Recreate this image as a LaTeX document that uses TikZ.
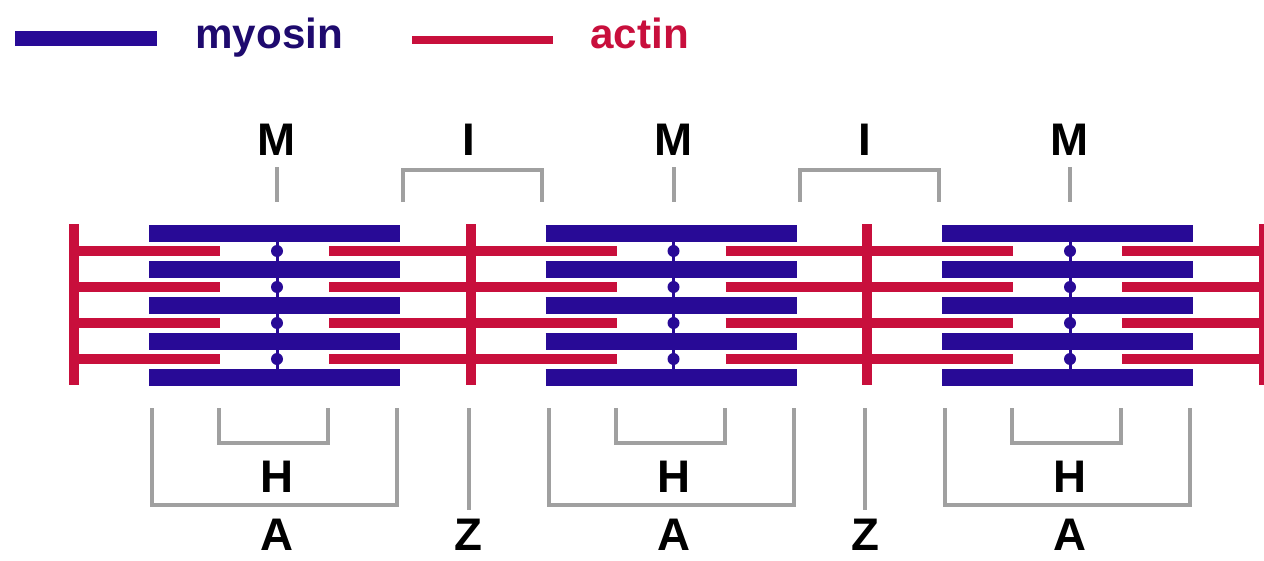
\documentclass[tikz,border=0pt]{standalone}
\usepackage{fontspec}
\setmainfont{Liberation Sans}
\definecolor{myosin}{RGB}{40,10,150}
\definecolor{actin}{RGB}{200,15,60}
\definecolor{myosintext}{RGB}{30,10,110}
\definecolor{band}{RGB}{160,160,160}
\tikzset{
  thick filament/.style={myosin, line width=0.34cm},
  thin filament/.style={actin, line width=0.2cm},
  zdisc/.style={actin, line width=0.2cm},
  bracket/.style={band, line width=0.08cm},
  bandlabel/.style={font=\fontsize{26}{30}\selectfont\bfseries, inner sep=0pt, anchor=base},
  legendlabel/.style={font=\fontsize{24}{28}\selectfont\bfseries, inner sep=0pt, anchor=base west},
}
\begin{document}
\begin{tikzpicture}[x=0.02cm, y=-0.02cm]
  \useasboundingbox (0,0) rectangle (1264,561);
  % legend
  \draw[thick filament, line width=0.32cm] (15,38.5) -- (157,38.5);
  \node[legendlabel, myosintext] (myosin) at (195,49) {myosin};
  \draw[thin filament, line width=0.18cm] (412,40) -- (553,40);
  \node[legendlabel, actin] (actin) at (590,49) {actin};
  % thin filaments
  \foreach \y in {251,287,323,359}
    \draw[thin filament] (74,\y) -- (220,\y) (329,\y) -- (616.5,\y)
      (725.5,\y) -- (1013,\y) (1122,\y) -- (1270,\y);
  % z discs
  \foreach \x in {74,470.5,867,1263.5}
    \draw[zdisc] (\x,224) -- (\x,385);
  % sarcomeres
  \foreach \m [count=\i] in {277,673.5,1070} {
    \foreach \y in {233,269,305,341,377}
      \draw[thick filament] (\m-128,\y) -- (\m+123,\y);
    \draw[myosin, line width=0.06cm] (\m,233) -- (\m,377);
    \foreach \y in {251,287,323,359}
      \fill[myosin] (\m,\y) circle (0.12cm);
    \node[bandlabel] (M\i) at (\m,155) {M};
    \draw[bracket] (\m,167) -- (\m,202);
    \draw[bracket] (\m-58,408) |- (\m+51,443) -- (\m+51,408);
    \node[bandlabel] (H\i) at (\m,492) {H};
    \draw[bracket] (\m-125,408) |- (\m+120,505) -- (\m+120,408);
    \node[bandlabel] (A\i) at (\m,550) {A};
  }
  \foreach \z [count=\i] in {470.5,867} {
    \draw[bracket] (\z-67.5,202) |- (\z+71.5,170) -- (\z+71.5,202);
    \node[bandlabel] (I\i) at (\z-2,155) {I};
    \draw[bracket] (\z-2,408) -- (\z-2,510);
    \node[bandlabel] (Z\i) at (\z-2,550) {Z};
  }
\end{tikzpicture}
\end{document}
